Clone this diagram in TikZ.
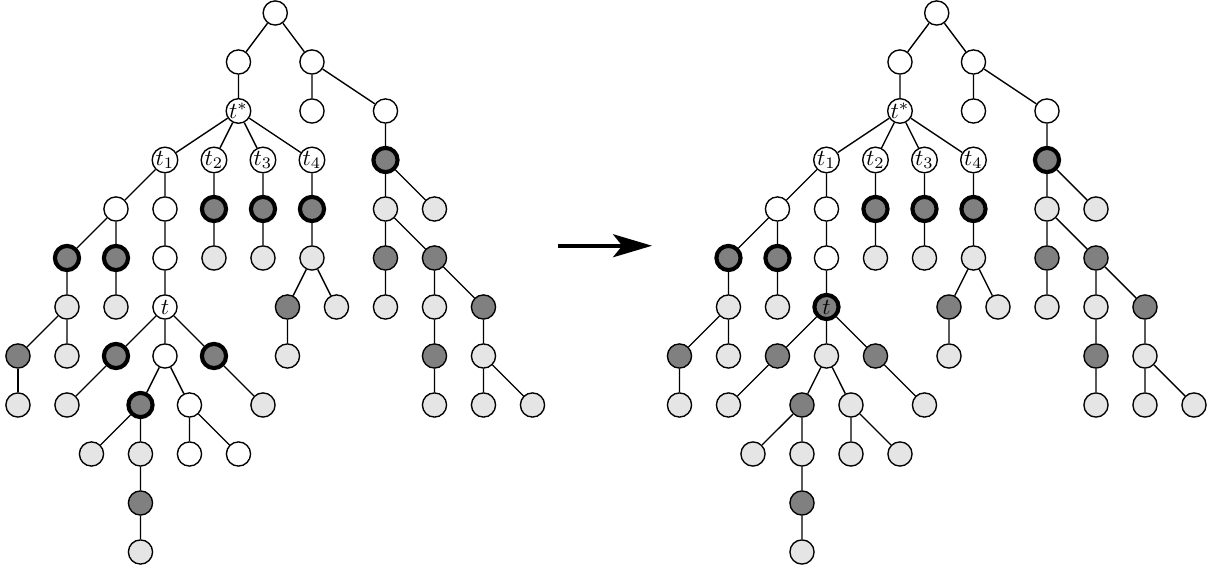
\documentclass[tikz,border=0pt]{standalone}
\usetikzlibrary{arrows.meta}
\begin{document}
\begin{tikzpicture}[scale=.75, semithick,
  vtx/.style={circle, draw, fill=white, inner sep=0pt, minimum size=.37cm},
  lgt/.style={vtx, fill=black!10},
  drk/.style={vtx, fill=black!50},
  hl/.style={line width=1.8pt}]
\useasboundingbox (-0.367,0.265) rectangle (24.49,-11.41);
% before
\node[vtx] (pre0) at (5.25,0){};
\node[vtx] (pre1) at (4.5,-1){};
\node[vtx] (pre2) at (6,-1){};
\draw[](pre0) -- (pre1);
\draw[](pre0) -- (pre2);
\node[vtx] (pre3) at (4.5,-2){$t^*$};
\node[vtx] (pre4) at (6,-2){};
\node[vtx] (pre5) at (7.5,-2){};
\draw[](pre1) -- (pre3);
\draw[](pre2) -- (pre4);
\draw[](pre2) -- (pre5);
\node[vtx] (pre6) at (3,-3){$t_1$};
\node[vtx] (pre7) at (4,-3){$t_2$};
\node[vtx] (pre8) at (5,-3){$t_3$};
\node[vtx] (pre9) at (6,-3){$t_4$};
\node[drk, hl] (pre10) at (7.5,-3){};
\draw[](pre3) -- (pre6);
\draw[](pre3) -- (pre7);
\draw[](pre3) -- (pre8);
\draw[](pre3) -- (pre9);
\draw[](pre5) -- (pre10);
\node[vtx] (pre11) at (2,-4){};
\node[vtx] (pre12) at (3,-4){};
\node[drk, hl] (pre13) at (4,-4){};
\node[drk, hl] (pre14) at (5,-4){};
\node[drk, hl] (pre15) at (6,-4){};
\node[lgt] (pre16) at (7.5,-4){};
\node[lgt] (pre17) at (8.5,-4){};
\draw[](pre6) -- (pre11);
\draw[](pre6) -- (pre12);
\draw[](pre7) -- (pre13);
\draw[](pre8) -- (pre14);
\draw[](pre9) -- (pre15);
\draw[](pre10) -- (pre16);
\draw[](pre10) -- (pre17);
\node[drk, hl] (pre18) at (1,-5){};
\node[drk, hl] (pre19) at (2,-5){};
\node[vtx] (pre20) at (3,-5){};
\node[lgt] (pre21) at (4,-5){};
\node[lgt] (pre22) at (5,-5){};
\node[lgt] (pre23) at (6,-5){};
\node[drk] (pre24) at (7.5,-5){};
\node[drk] (pre25) at (8.5,-5){};
\draw[](pre11) -- (pre18);
\draw[](pre11) -- (pre19);
\draw[](pre12) -- (pre20);
\draw[](pre13) -- (pre21);
\draw[](pre14) -- (pre22);
\draw[](pre15) -- (pre23);
\draw[](pre16) -- (pre24);
\draw[](pre16) -- (pre25);
\node[lgt] (pre26) at (1,-6){};
\node[lgt] (pre27) at (2,-6){};
\node[vtx] (pre28) at (3,-6){$t$};
\node[drk] (pre29) at (5.5,-6){};
\node[lgt] (pre30) at (6.5,-6){};
\node[lgt] (pre31) at (7.5,-6){};
\node[lgt] (pre32) at (8.5,-6){};
\node[drk] (pre33) at (9.5,-6){};
\draw[](pre18) -- (pre26);
\draw[](pre19) -- (pre27);
\draw[](pre20) -- (pre28);
\draw[](pre23) -- (pre29);
\draw[](pre23) -- (pre30);
\draw[](pre24) -- (pre31);
\draw[](pre25) -- (pre32);
\draw[](pre25) -- (pre33);
\node[drk] (pre34) at (0,-7){};
\node[lgt] (pre35) at (1,-7){};
\node[drk, hl] (pre36) at (2,-7){};
\node[vtx] (pre37) at (3,-7){};
\node[drk, hl] (pre38) at (4,-7){};
\node[lgt] (pre39) at (5.5,-7){};
\node[drk] (pre40) at (8.5,-7){};
\node[lgt] (pre41) at (9.5,-7){};
\draw[](pre26) -- (pre34);
\draw[](pre26) -- (pre35);
\draw[](pre28) -- (pre36);
\draw[](pre28) -- (pre37);
\draw[](pre28) -- (pre38);
\draw[](pre29) -- (pre39);
\draw[](pre32) -- (pre40);
\draw[](pre33) -- (pre41);
\node[lgt] (pre42) at (0,-8){};
\node[lgt] (pre43) at (1,-8){};
\node[drk, hl] (pre44) at (2.5,-8){};
\node[vtx] (pre45) at (3.5,-8){};
\node[lgt] (pre46) at (5,-8){};
\node[lgt] (pre47) at (8.5,-8){};
\node[lgt] (pre48) at (9.5,-8){};
\node[lgt] (pre49) at (10.5,-8){};
\draw[](pre34) -- (pre42);
\draw[](pre36) -- (pre43);
\draw[](pre37) -- (pre44);
\draw[](pre37) -- (pre45);
\draw[](pre38) -- (pre46);
\draw[](pre40) -- (pre47);
\draw[](pre41) -- (pre48);
\draw[](pre41) -- (pre49);
\node[lgt] (pre50) at (1.5,-9){};
\node[lgt] (pre51) at (2.5,-9){};
\node[vtx] (pre52) at (3.5,-9){};
\node[vtx] (pre53) at (4.5,-9){};
\draw[](pre44) -- (pre50);
\draw[](pre44) -- (pre51);
\draw[](pre45) -- (pre52);
\draw[](pre45) -- (pre53);
\node[drk] (pre54) at (2.5,-10){};
\node[lgt] (pre55) at (2.5,-11){};
\draw[](pre51) -- (pre54);
\draw[](pre54) -- (pre55);
% arrow
\coordinate (arrs) at (11.02,-4.75);
\coordinate (arre) at (12.94,-4.75);
\draw[line width=1.6pt, -{Stealth[length=17pt, width=10pt, inset=4pt]}](arrs) -- (arre);
% after
\node[vtx] (post0) at (18.75,0){};
\node[vtx] (post1) at (18,-1){};
\node[vtx] (post2) at (19.5,-1){};
\draw[](post0) -- (post1);
\draw[](post0) -- (post2);
\node[vtx] (post3) at (18,-2){$t^*$};
\node[vtx] (post4) at (19.5,-2){};
\node[vtx] (post5) at (21,-2){};
\draw[](post1) -- (post3);
\draw[](post2) -- (post4);
\draw[](post2) -- (post5);
\node[vtx] (post6) at (16.5,-3){$t_1$};
\node[vtx] (post7) at (17.5,-3){$t_2$};
\node[vtx] (post8) at (18.5,-3){$t_3$};
\node[vtx] (post9) at (19.5,-3){$t_4$};
\node[drk, hl] (post10) at (21,-3){};
\draw[](post3) -- (post6);
\draw[](post3) -- (post7);
\draw[](post3) -- (post8);
\draw[](post3) -- (post9);
\draw[](post5) -- (post10);
\node[vtx] (post11) at (15.5,-4){};
\node[vtx] (post12) at (16.5,-4){};
\node[drk, hl] (post13) at (17.5,-4){};
\node[drk, hl] (post14) at (18.5,-4){};
\node[drk, hl] (post15) at (19.5,-4){};
\node[lgt] (post16) at (21,-4){};
\node[lgt] (post17) at (22,-4){};
\draw[](post6) -- (post11);
\draw[](post6) -- (post12);
\draw[](post7) -- (post13);
\draw[](post8) -- (post14);
\draw[](post9) -- (post15);
\draw[](post10) -- (post16);
\draw[](post10) -- (post17);
\node[drk, hl] (post18) at (14.5,-5){};
\node[drk, hl] (post19) at (15.5,-5){};
\node[vtx] (post20) at (16.5,-5){};
\node[lgt] (post21) at (17.5,-5){};
\node[lgt] (post22) at (18.5,-5){};
\node[lgt] (post23) at (19.5,-5){};
\node[drk] (post24) at (21,-5){};
\node[drk] (post25) at (22,-5){};
\draw[](post11) -- (post18);
\draw[](post11) -- (post19);
\draw[](post12) -- (post20);
\draw[](post13) -- (post21);
\draw[](post14) -- (post22);
\draw[](post15) -- (post23);
\draw[](post16) -- (post24);
\draw[](post16) -- (post25);
\node[lgt] (post26) at (14.5,-6){};
\node[lgt] (post27) at (15.5,-6){};
\node[drk, hl] (post28) at (16.5,-6){$t$};
\node[drk] (post29) at (19,-6){};
\node[lgt] (post30) at (20,-6){};
\node[lgt] (post31) at (21,-6){};
\node[lgt] (post32) at (22,-6){};
\node[drk] (post33) at (23,-6){};
\draw[](post18) -- (post26);
\draw[](post19) -- (post27);
\draw[](post20) -- (post28);
\draw[](post23) -- (post29);
\draw[](post23) -- (post30);
\draw[](post24) -- (post31);
\draw[](post25) -- (post32);
\draw[](post25) -- (post33);
\node[drk] (post34) at (13.5,-7){};
\node[lgt] (post35) at (14.5,-7){};
\node[drk] (post36) at (15.5,-7){};
\node[lgt] (post37) at (16.5,-7){};
\node[drk] (post38) at (17.5,-7){};
\node[lgt] (post39) at (19,-7){};
\node[drk] (post40) at (22,-7){};
\node[lgt] (post41) at (23,-7){};
\draw[](post26) -- (post34);
\draw[](post26) -- (post35);
\draw[](post28) -- (post36);
\draw[](post28) -- (post37);
\draw[](post28) -- (post38);
\draw[](post29) -- (post39);
\draw[](post32) -- (post40);
\draw[](post33) -- (post41);
\node[lgt] (post42) at (13.5,-8){};
\node[lgt] (post43) at (14.5,-8){};
\node[drk] (post44) at (16,-8){};
\node[lgt] (post45) at (17,-8){};
\node[lgt] (post46) at (18.5,-8){};
\node[lgt] (post47) at (22,-8){};
\node[lgt] (post48) at (23,-8){};
\node[lgt] (post49) at (24,-8){};
\draw[](post34) -- (post42);
\draw[](post36) -- (post43);
\draw[](post37) -- (post44);
\draw[](post37) -- (post45);
\draw[](post38) -- (post46);
\draw[](post40) -- (post47);
\draw[](post41) -- (post48);
\draw[](post41) -- (post49);
\node[lgt] (post50) at (15,-9){};
\node[lgt] (post51) at (16,-9){};
\node[lgt] (post52) at (17,-9){};
\node[lgt] (post53) at (18,-9){};
\draw[](post44) -- (post50);
\draw[](post44) -- (post51);
\draw[](post45) -- (post52);
\draw[](post45) -- (post53);
\node[drk] (post54) at (16,-10){};
\node[lgt] (post55) at (16,-11){};
\draw[](post51) -- (post54);
\draw[](post54) -- (post55);
\end{tikzpicture}
\end{document}
